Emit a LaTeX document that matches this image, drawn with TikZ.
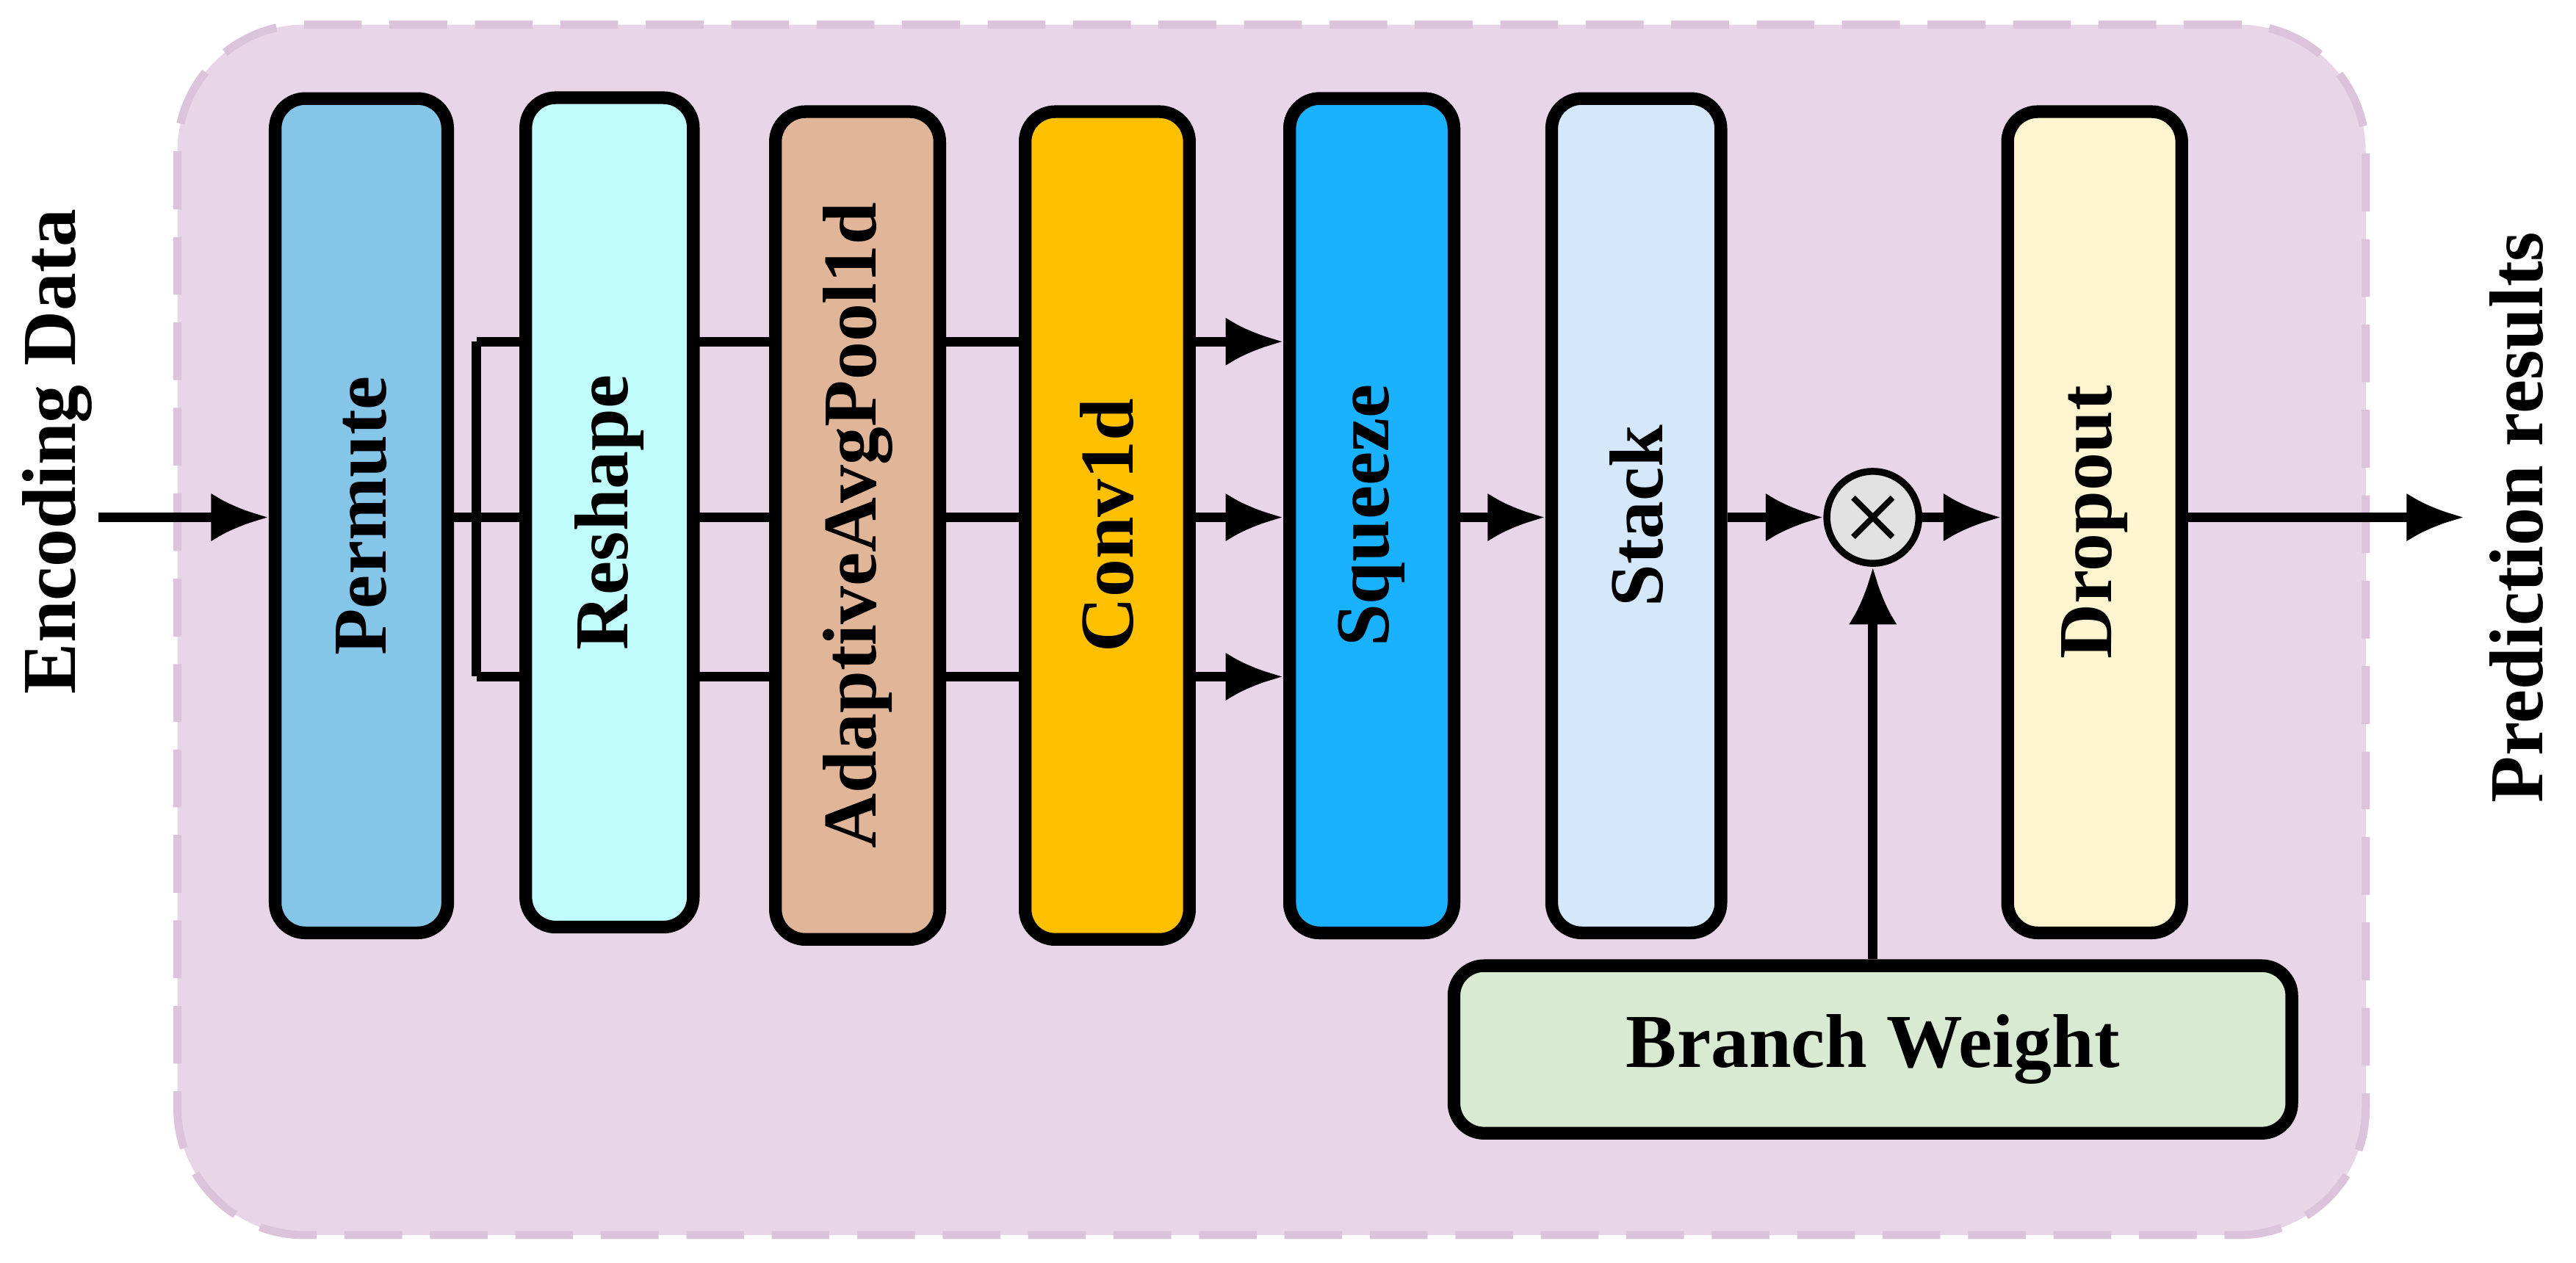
\documentclass[tikz,border=0pt]{standalone}
\usepackage{fontspec}
\setmainfont{Liberation Serif}
\usetikzlibrary{arrows.meta}
\begin{document}
\begin{tikzpicture}[x=0.05cm,y=-0.05cm,
 blk/.style={draw=black,line width=11pt,rounded corners=26pt,inner sep=0pt},
 lab/.style={font=\fontsize{66}{72}\selectfont\bfseries,rotate=90},
 ln/.style={line width=8pt},
 ar/.style={line width=8pt,-{Latex[length=50pt,width=42pt]}}]
\useasboundingbox (0,0) rectangle (1568,768.6);
\draw[fill={rgb,255:red,232;green,214;blue,232},draw={rgb,255:red,220;green,195;blue,220},line width=7pt,dash pattern=on 50pt off 24pt,rounded corners=110pt] (108,15) rectangle (1440,752);
\definecolor{c1}{HTML}{85C5E8}\definecolor{c2}{HTML}{C0FCFC}\definecolor{c3}{HTML}{E0B598}
\definecolor{c4}{HTML}{FFC000}\definecolor{c5}{HTML}{1AB2FF}\definecolor{c6}{HTML}{D5E8FA}
\definecolor{c7}{HTML}{FFF5D0}\definecolor{c8}{HTML}{D9EAD3}
\coordinate (sp) at (290,315);
\coordinate (t) at (290,208);
\coordinate (b) at (290,412);
\node[blk,fill=c5,minimum width=100*0.05cm,minimum height=508*0.05cm] (sq) at (835,314) {};
\draw[ln] (t)--(b);
\draw[ar] (t)--(sq.west|-t);
\draw[ar] (sp)--(sq.west|-sp);
\draw[ar] (b)--(sq.west|-b);
\node[blk,fill=c1,minimum width=105*0.05cm,minimum height=508*0.05cm] (pe) at (220,314) {};
\node[blk,fill=c2,minimum width=102*0.05cm,minimum height=505*0.05cm] (re) at (371,312) {};
\node[blk,fill=c3,minimum width=100*0.05cm,minimum height=504*0.05cm] (ad) at (522,320) {};
\node[blk,fill=c4,minimum width=100*0.05cm,minimum height=504*0.05cm] (co) at (674,320) {};
\node[blk,fill=c5,minimum width=100*0.05cm,minimum height=508*0.05cm] at (835,314) {};
\node[blk,fill=c6,minimum width=103*0.05cm,minimum height=508*0.05cm] (st) at (996,314) {};
\node[blk,fill=c7,minimum width=106*0.05cm,minimum height=500*0.05cm] (dr) at (1275,318) {};
\node[blk,fill=c8,minimum width=510*0.05cm,minimum height=102*0.05cm] (bw) at (1140,639) {};
\draw[ln] (pe.east|-sp)--(sp);
\node[lab] at (pe) {Permute};
\node[lab] at (re) {Reshape};
\node[lab] at (ad) {AdaptiveAvgPool1d};
\node[lab] at (co) {Conv1d};
\node[lab] at (835,314) {Squeeze};
\node[lab] at (st) {Stack};
\node[lab] at (dr) {Dropout};
\node[font=\fontsize{66}{72}\selectfont\bfseries] at (bw) {Branch Weight};
\node[draw,line width=6pt,fill={rgb,255:red,225;green,225;blue,225},circle,minimum size=56*0.05cm,inner sep=0pt] (m) at (1140,315) {};
\draw[line width=5pt] ([shift={(-12,-12)}]m.center)--([shift={(12,12)}]m.center) ([shift={(12,-12)}]m.center)--([shift={(-12,12)}]m.center);
\node[lab] (in) at (35,275) {Encoding Data};
\node[lab] (out) at (1532,315) {Prediction results};
\coordinate (ina) at (60,315);
\coordinate (outa) at (1500,315);
\draw[ar] (ina)--(pe.west|-ina);
\draw[ar] (sq.east|-sp)--(st.west|-sp);
\draw[ar] (st.east|-sp)--(m.west);
\draw[ar] (m.east)--(dr.west|-sp);
\draw[ar] (bw.north-|m)--(m.south);
\draw[ar] (dr.east|-sp)--(outa);
\end{tikzpicture}
\end{document}
